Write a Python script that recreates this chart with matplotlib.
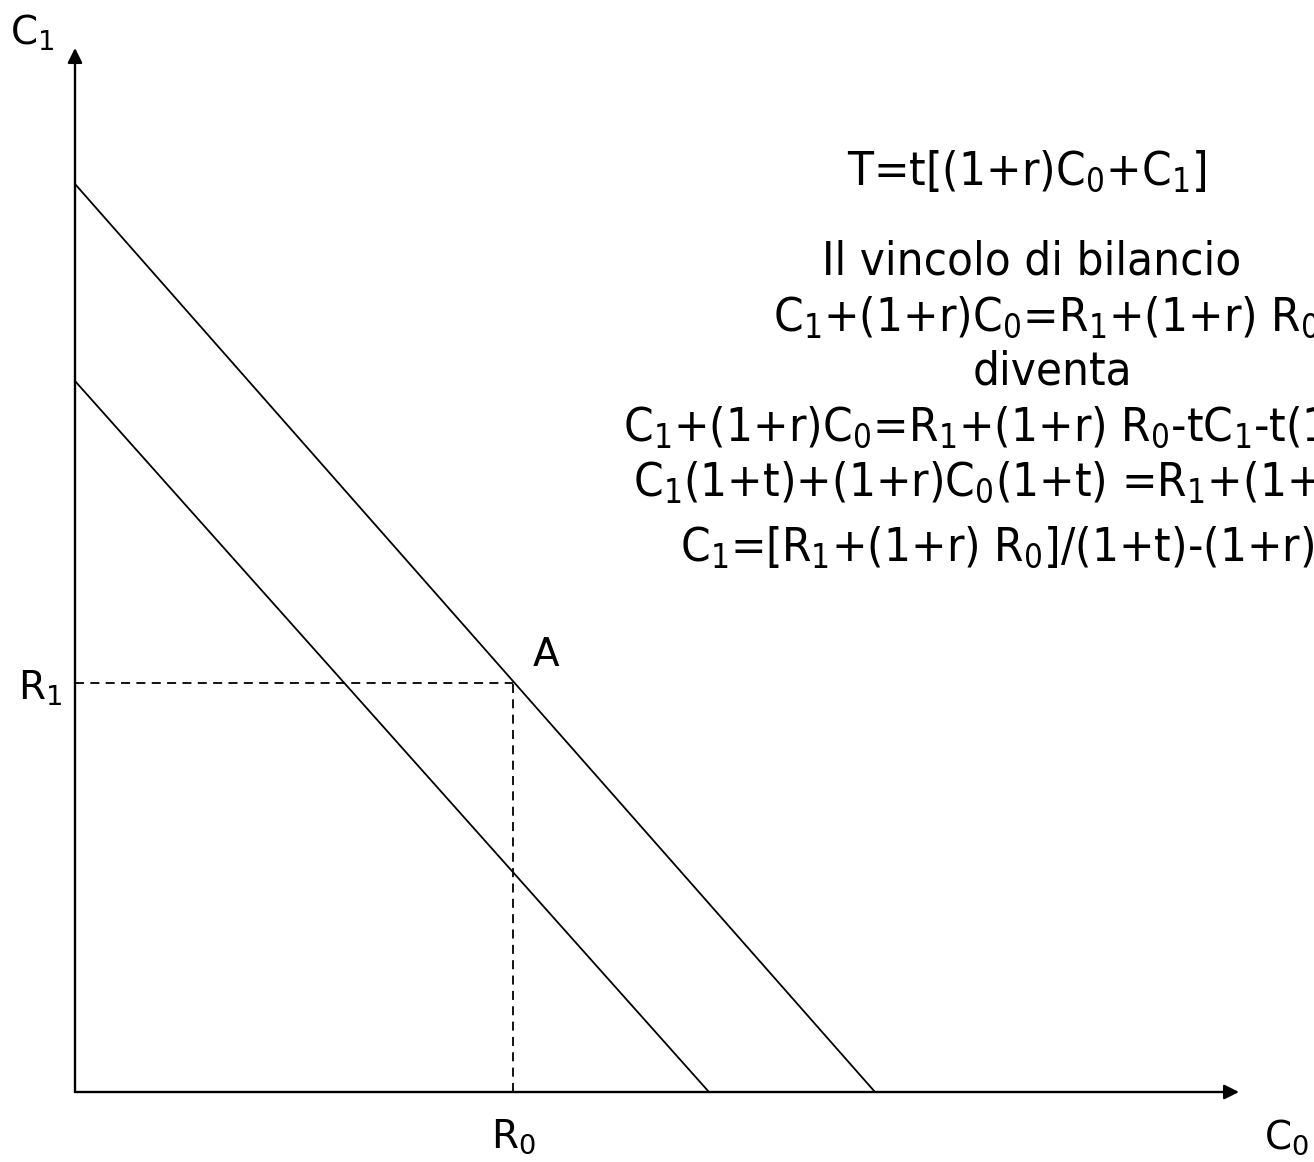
import matplotlib
matplotlib.use('Agg')
import matplotlib.pyplot as plt

# grandezze del modello (unità arbitrarie)
R0 = 4.38
R1 = 4.09
vincolo_senza_tassa = [9.08, 8.00]   # intercette (C1, C0)
vincolo_con_tassa = [7.11, 6.34]     # intercette (C1, C0)

righe_testo = [
    'T=t[(1+r)C$_0$+C$_1$]',
    'Il vincolo di bilancio',
    'C$_1$+(1+r)C$_0$=R$_1$+(1+r) R$_0$',
    'diventa',
    'C$_1$+(1+r)C$_0$=R$_1$+(1+r) R$_0$-tC$_1$-t(1+r)C$_0$',
    'C$_1$(1+t)+(1+r)C$_0$(1+t) =R$_1$+(1+r) R$_0$',
    'C$_1$=[R$_1$+(1+r) R$_0$]/(1+t)-(1+r)C$_0$',
]

plt.rcParams['font.family'] = 'DejaVu Sans'
plt.rcParams['mathtext.fontset'] = 'custom'
plt.rcParams['mathtext.rm'] = 'DejaVu Sans'
plt.rcParams['mathtext.default'] = 'regular'

fig = plt.figure(figsize=(13.14, 11.62), dpi=100)
ax = fig.add_axes([0, 0, 1, 1])
ax.set_xlim(-0.75, 12.39)
ax.set_ylim(-0.70, 10.92)
ax.axis('off')

# assi con frecce
freccia = dict(arrowstyle='-|>', mutation_scale=22, lw=1.7, color='black',
               shrinkA=0, shrinkB=0)
ax.annotate('', xy=(11.64, 0), xytext=(0, 0), arrowprops=freccia)
ax.annotate('', xy=(0, 10.44), xytext=(0, 0), arrowprops=freccia)

# vincoli di bilancio
ax.plot([0, vincolo_senza_tassa[1]], [vincolo_senza_tassa[0], 0], color='black', lw=1.3)
ax.plot([0, vincolo_con_tassa[1]], [vincolo_con_tassa[0], 0], color='black', lw=1.3)

# dotazione iniziale A
ax.plot([0, R0], [R1, R1], color='black', lw=1.3, ls=(0, (5, 3.5)))
ax.plot([R0, R0], [0, R1], color='black', lw=1.3, ls=(0, (5, 3.5)))

fs = 28
ax.text(-0.43, 10.59, 'C$_1$', fontsize=fs, ha='center', va='center')
ax.text(-0.35, R1 - 0.05, 'R$_1$', fontsize=fs, ha='center', va='center')
ax.text(R0, -0.45, 'R$_0$', fontsize=fs, ha='center', va='center')
ax.text(12.12, -0.45, 'C$_0$', fontsize=fs, ha='center', va='center')
ax.text(R0 + 0.33, R1 + 0.28, 'A', fontsize=fs, ha='center', va='center')

# formule
fs2 = 34
kw = dict(fontsize=fs2, va='center', fontstretch='condensed')
ax.text(9.52, 9.20, righe_testo[0], ha='center', **kw)
ax.text(9.57, 8.30, righe_testo[1], ha='center', **kw)
ax.text(6.98, 7.74, righe_testo[2], ha='left', **kw)
ax.text(9.77, 7.20, righe_testo[3], ha='center', **kw)
ax.text(5.48, 6.64, righe_testo[4], ha='left', **kw)
ax.text(5.58, 6.09, righe_testo[5], ha='left', **kw)
ax.text(6.05, 5.44, righe_testo[6], ha='left', **kw)

fig.savefig('out.png', dpi=100)
